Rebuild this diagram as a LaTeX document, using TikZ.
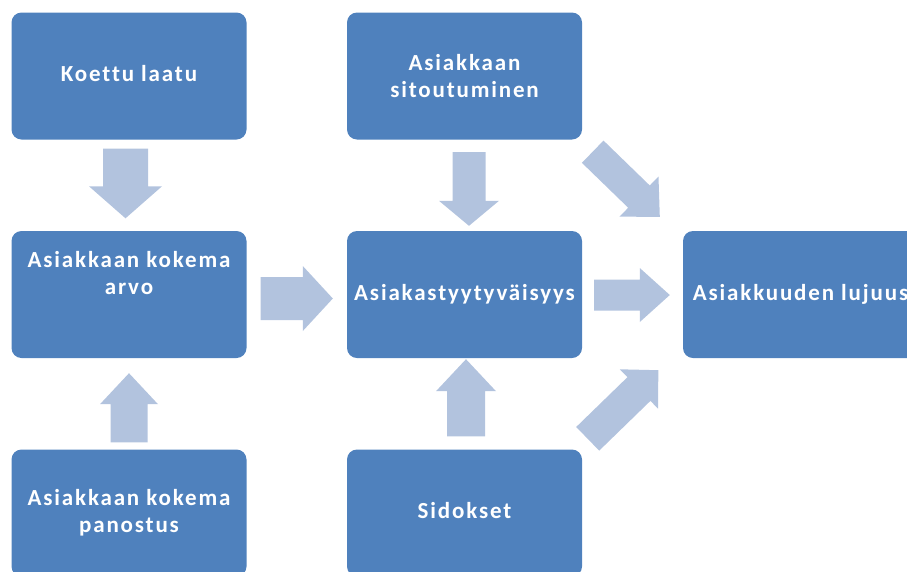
\documentclass[tikz,border=0pt]{standalone}
\usepackage{fontspec}
\setmainfont{Carlito}[LetterSpace=8, Ligatures={NoCommon}]
\usetikzlibrary{calc}
\definecolor{boxblue}{HTML}{4F81BD}
\definecolor{arrowblue}{HTML}{B2C3DE}
% #1 tail, #2 tip, #3 half shaft width, #4 half head width, #5 head length
\newcommand\blockarrow[5]{%
  \coordinate (hb) at ($(#2)!#5!(#1)$);
  \fill[arrowblue] ($(#1)!#3!90:(#2)$) -- ($(hb)!#3!-90:(#1)$) -- ($(hb)!#4!-90:(#1)$) -- (#2)
    -- ($(hb)!#4!90:(#1)$) -- ($(hb)!#3!90:(#1)$) -- ($(#1)!#3!-90:(#2)$) -- cycle;}
\begin{document}
\begin{tikzpicture}[x=1pt,y=-1pt,
  box/.style={fill=boxblue, rounded corners=10pt, minimum width=235pt, minimum height=127pt,
    inner sep=0pt, text=white, font=\bfseries\fontsize{23}{27}\selectfont, align=center},
  oneline/.style={text height=16pt, text depth=5pt},
  boxtext/.style={inner sep=0pt, text=white, font=\bfseries\fontsize{23}{27}\selectfont, align=center}]
\useasboundingbox (0,0) rectangle (907,571);
\clip (0,0) rectangle (907,571);
% boxes
\node[box, oneline] (koettu) at (129,76) {Koettu laatu};
\node[box] (arvo) at (129,294.5) {};
\node[boxtext] (arvotext) at ($(arvo.center)+(0,-21)$) {Asiakkaan kokema\\arvo};
\node[box] (panostus) at (129,513) {Asiakkaan kokema\\panostus};
\node[box] (sitout) at (464.5,76) {Asiakkaan\\sitoutuminen};
\node[box, oneline] (tyyty) at (464.5,294.5) {Asiakastyytyväisyys};
\node[box, oneline] (sidokset) at (464.5,513) {Sidokset};
\node[box, oneline] (lujuus) at (800.5,294.5) {Asiakkuuden lujuus};
% arrow end points
\coordinate (a1s) at ($(koettu.south)+(-3.5,9)$);
\coordinate (a1e) at ($(arvo.north)+(-3.5,-12.5)$);
\coordinate (a2s) at ($(panostus.north)+(0,-7)$);
\coordinate (a2e) at ($(arvo.south)+(0,15)$);
\coordinate (a3s) at ($(arvo.east)+(14,4)$);
\coordinate (a3e) at ($(tyyty.west)+(-14,4)$);
\coordinate (a4s) at ($(sitout.south)+(4.5,12.5)$);
\coordinate (a4e) at ($(tyyty.north)+(4.5,-5)$);
\coordinate (a5s) at ($(sidokset.north)+(1.5,-13)$);
\coordinate (a5e) at ($(tyyty.south)+(1.5,1)$);
\coordinate (a6s) at ($(tyyty.east)+(12,0.5)$);
\coordinate (a6e) at ($(lujuus.west)+(-13,0.5)$);
\coordinate (a7s) at ($(sitout.south east)+(10.5,12)$);
\coordinate (a7e) at ($(lujuus.north west)+(-23,-14)$);
\coordinate (a8s) at ($(sidokset.north east)+(5.5,-10.5)$);
\coordinate (a8e) at ($(lujuus.south west)+(-24.5,12)$);
% block arrows
\blockarrow{a1s}{a1e}{22.5pt}{36.5pt}{32pt}
\blockarrow{a2s}{a2e}{18.5pt}{29pt}{31pt}
\blockarrow{a3s}{a3e}{21.5pt}{32.5pt}{30pt}
\blockarrow{a4s}{a4e}{16.5pt}{30pt}{25pt}
\blockarrow{a5s}{a5e}{19pt}{30pt}{32pt}
\blockarrow{a6s}{a6e}{15.5pt}{27pt}{30pt}
\blockarrow{a7s}{a7e}{15.5pt}{28pt}{29pt}
\blockarrow{a8s}{a8e}{16.5pt}{27.5pt}{27pt}
\end{tikzpicture}
\end{document}
